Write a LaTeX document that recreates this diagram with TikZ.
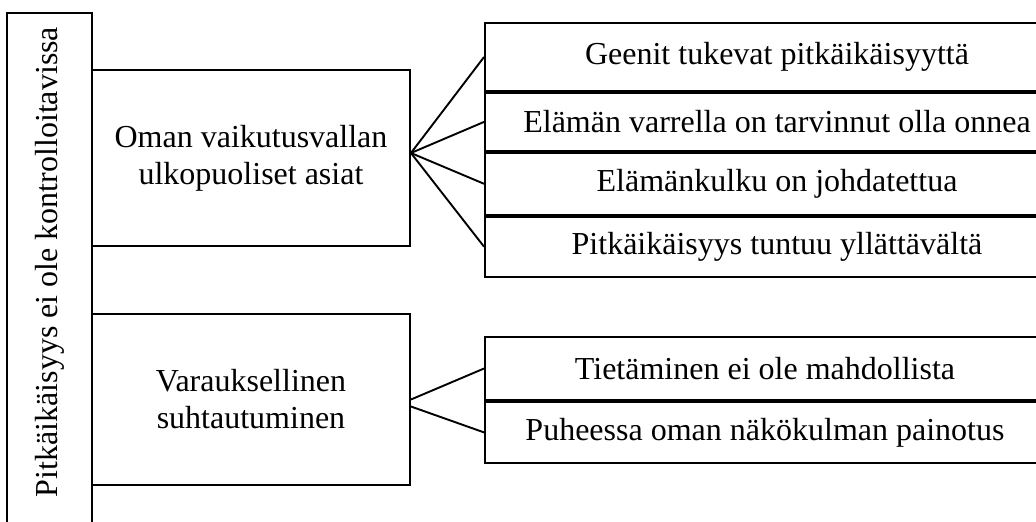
\documentclass[tikz,border=0pt]{standalone}
\usepackage{fontspec}
\setmainfont{Liberation Serif}
\usetikzlibrary{positioning}
\tikzset{
  link/.style={line width=1.9pt, black},
  framebox/.style={rectangle, draw=black, line width=1.9pt, inner sep=0pt}
}

\begin{document}
\begin{tikzpicture}[
    x=1pt, y=-1pt,
    font=\fontsize{32}{37}\selectfont,
    mainbox/.style={framebox, minimum width=318pt, align=center},
    itemA/.style={framebox, minimum width=584pt, align=center},
    itemB/.style={framebox, minimum width=560pt, align=center}
]
    \useasboundingbox (0,0) rectangle (1036,522);
    \clip (0,0) rectangle (1036,522);

    % Side frame and its rotated title
    \node[framebox, minimum width=85pt, minimum height=540pt] (side) at (49.5,283) {};
    \node[rotate=90, inner sep=0pt] (sidetext) at (49.5,262) {Pitkäikäisyys ei ole kontrolloitavissa};

    % Main categories
    \node[mainbox, minimum height=176pt] (oman) at (251,158) {Oman vaikutusvallan\\ulkopuoliset asiat};
    \node[mainbox, minimum height=171pt] (varaus) at (251,399.5) {Varauksellinen\\suhtautuminen};

    % Sub items, first group
    \node[itemA, minimum height=68pt] (geenit) at (777,57) {Geenit tukevat pitkäikäisyyttä};
    \node[itemA, minimum height=58pt, below=0pt of geenit] (onni) {Elämän varrella on tarvinnut olla onnea};
    \node[itemA, minimum height=62pt, below=0pt of onni] (kulku) {Elämänkulku on johdatettua};
    \node[itemA, minimum height=60pt, below=0pt of kulku] (yllatys) {Pitkäikäisyys tuntuu yllättävältä};

    % Sub items, second group
    \node[itemB, minimum height=63pt] (tieto) at (765,368.5) {Tietäminen ei ole mahdollista};
    \node[itemB, minimum height=61pt, below=0pt of tieto] (puhe) {Puheessa oman näkökulman painotus};

    % Connectors
    \foreach \target in {geenit, onni, kulku, yllatys}
        \draw[link] ([yshift=5pt]oman.east) -- (\target.west);
    \draw[link] ([yshift=0pt]varaus.east) -- (tieto.west);
    \draw[link] ([yshift=-7pt]varaus.east) -- (puhe.west);
\end{tikzpicture}
\end{document}
